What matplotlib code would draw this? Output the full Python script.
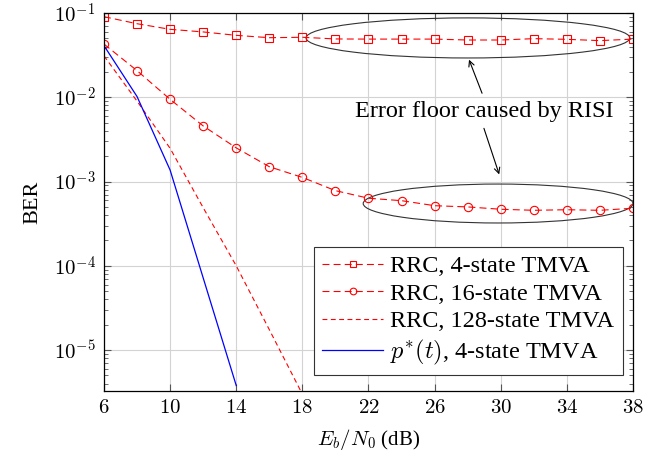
import numpy as np
import matplotlib
matplotlib.use('Agg')
import matplotlib.pyplot as plt
from matplotlib.patches import Ellipse

plt.rcParams['font.family'] = ['Liberation Serif', 'DejaVu Serif']
plt.rcParams['mathtext.fontset'] = 'cm'
plt.rcParams['lines.scale_dashes'] = False

# dane
snr = [6, 8, 10, 12, 14, 16, 18, 20, 22, 24, 26, 28, 30, 32, 34, 36, 38]
ber_4state = [0.0904, 0.0746, 0.064, 0.0596, 0.0543, 0.0509, 0.0515, 0.0492, 0.049,
              0.049, 0.049, 0.0478, 0.0478, 0.0496, 0.0487, 0.047, 0.049]
ber_16state = [0.0428, 0.0207, 0.00946, 0.00457, 0.00251, 0.0015, 0.00112, 7.8e-4, 6.34e-4,
               5.93e-4, 5.17e-4, 5.0e-4, 4.69e-4, 4.56e-4, 4.63e-4, 4.56e-4, 4.82e-4]
snr_128 = [6, 8, 10, 12, 14, 16, 18]
ber_128state = [0.031, 0.009, 0.00248, 4.9e-4, 1.0e-4, 1.75e-5, 3.0e-6]
snr_opt = [6, 8, 10, 12, 14]
ber_opt = [0.041, 0.0102, 0.00137, 7.2e-5, 3.8e-6]

xticks = [6, 10, 14, 18, 22, 26, 30, 34, 38]
yticks = [1e-5, 1e-4, 1e-3, 1e-2, 1e-1]
ylabels = [r'$10^{-5}$', r'$10^{-4}$', r'$10^{-3}$', r'$10^{-2}$', r'$10^{-1}$']

fig = plt.figure(figsize=(6.45, 4.59), dpi=100)
ax = fig.add_axes([0.1612, 0.1481, 0.8202, 0.8236])

dash = (5, 3)
ax.plot(snr, ber_4state, color='red', lw=0.8, dashes=dash, marker='s', ms=6,
        mfc='none', mew=0.8, label='RRC, 4-state TMVA')
ax.plot(snr, ber_16state, color='red', lw=0.8, dashes=dash, marker='o', ms=6,
        mfc='none', mew=0.8, label='RRC, 16-state TMVA')
ax.plot(snr_128, ber_128state, color='red', lw=0.8, dashes=(3.5, 2.5),
        label='RRC, 128-state TMVA')
ax.plot(snr_opt, ber_opt, color='blue', lw=0.9, label=r'$p^{*}(t)$, 4-state TMVA')

ax.set_yscale('log')
ax.set_xlim(6, 38)
ax.set_ylim(3.27e-6, 1e-1)
ax.set_xticks(xticks)
ax.set_xticklabels([r'$%d$' % t for t in xticks])
ax.set_yticks(yticks)
ax.set_yticklabels(ylabels)
ax.tick_params(which='both', direction='in', top=True, right=True, labelsize=15, pad=6)
ax.tick_params(which='major', length=5, width=0.8, color='#555555')
ax.tick_params(which='minor', length=3, width=0.6, color='#555555')
ax.grid(True, which='major', color='#d3d3d3', lw=0.8)
ax.set_axisbelow(True)
for s in ax.spines.values():
    s.set_linewidth(0.9)

ax.set_xlabel(r'$E_b/N_0$ (dB)', fontsize=15, labelpad=6)
ax.set_ylabel('BER', fontsize=16, labelpad=8)

# elipsy
ax.add_patch(Ellipse((0.688, 0.934), 0.612, 0.106, transform=ax.transAxes,
                     fill=False, ec='#333333', lw=0.8))
ax.add_patch(Ellipse((0.745, 0.496), 0.510, 0.103, transform=ax.transAxes,
                     fill=False, ec='#333333', lw=0.8))

ax.text(29.0, 0.0068, 'Error floor caused by RISI', fontsize=17.5, ha='center', va='center')
ax.annotate('', xy=(28.02, 0.030), xytext=(28.93, 0.0104),
            arrowprops=dict(arrowstyle='->', lw=0.8, color='black'))
ax.annotate('', xy=(29.96, 1.13e-3), xytext=(28.93, 4.6e-3),
            arrowprops=dict(arrowstyle='->', lw=0.8, color='black'))

leg = ax.legend(loc='lower right', bbox_to_anchor=(0.981, 0.042), fontsize=17.5,
                frameon=True, fancybox=False, edgecolor='#333333', framealpha=1,
                handlelength=2.5, handletextpad=0.3, labelspacing=0.22, borderpad=0.35,
                borderaxespad=0, markerscale=0.8)
leg.get_frame().set_linewidth(0.8)

fig.savefig('out.png', dpi=100)
